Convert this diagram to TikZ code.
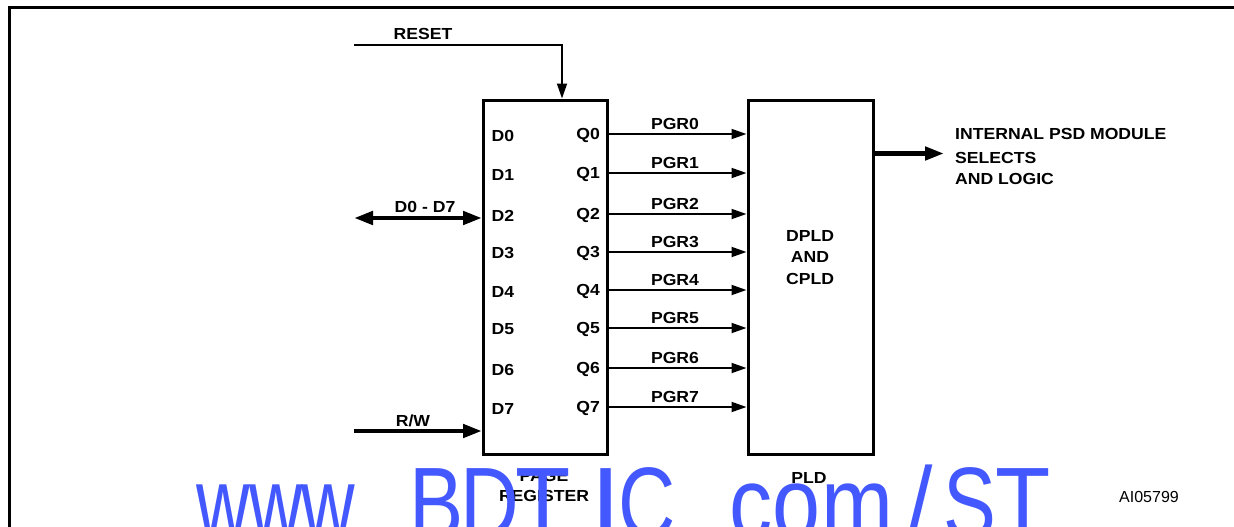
\documentclass[tikz,border=0pt]{standalone}
\usepackage{fontspec}
\setmainfont{Liberation Sans}
\newfontfamily\labfont{Liberation Sans}[FakeStretch=1.1]
\usetikzlibrary{arrows.meta}
\definecolor{wmblue}{RGB}{68,88,255}
\begin{document}
\begin{tikzpicture}[x=1pt,y=-1pt,
  lab/.style={font=\labfont\bfseries\fontsize{16}{19}\selectfont, inner sep=0pt},
  note/.style={font=\fontsize{16}{19}\selectfont, inner sep=0pt},
  blk/.style={draw, line width=3pt, inner sep=0pt},
  sig/.style={line width=1.8pt, -{Triangle[length=15pt,width=10pt]}},
  bus/.style={line width=4.5pt, -{Triangle[length=19pt,width=13pt]}},
  dbus/.style={line width=4.5pt, {Triangle[length=19pt,width=13pt]}-{Triangle[length=19pt,width=13pt]}},
  frame/.style={line width=2.5pt},
  wm/.style={font=\fontsize{101.6}{110}\selectfont, text=wmblue, inner sep=0pt, anchor=base west}]
\useasboundingbox (0,0) rectangle (1234,527);
% frame
\draw[frame] (9.5,527) -- (9.5,7.3) -- (1234,7.3);
% blocks
\node[blk, minimum width=124pt, minimum height=354pt] (pr) at (545.5,277) {};
\node[blk, minimum width=125pt, minimum height=354pt] (pld) at (810.5,277.5) {};
% register pins and PGR connectors
\foreach \i/\y in {0/134,1/173,2/214,3/252,4/290,5/328,6/368,7/407}{
  \node[lab, anchor=west] (d\i) at (491.5,\y+1.5) {D\i};
  \node[lab, anchor=east] (q\i) at (600,\y+1.5) {Q\i};
  \coordinate (pg\i) at (675,\y);
  \draw[sig] (pg\i -| pr.east) -- (pg\i -| pld.west);
  \node[lab] (pgr\i) at (675,\y-10) {PGR\i};
}
% RESET
\coordinate (rs) at (354,45);
\coordinate (rc) at (562,45);
\draw[sig] (rs) -- (rc) -- (rc |- pr.north);
\node[lab] (treset) at (423,34) {RESET};
% data bus
\coordinate (db) at (354,218);
\draw[dbus] (db) -- (db -| pr.west);
\node[lab] (tdb) at (425,207) {D0 - D7};
% R/W
\coordinate (rw) at (354,431);
\draw[bus] (rw) -- (rw -| pr.west);
\node[lab] (trw) at (413,421) {R/W};
% output
\coordinate (out) at (944,153.5);
\draw[bus] (out -| pld.east) -- (out);
\node[lab, anchor=west] (to1) at (955,134) {INTERNAL PSD MODULE};
\node[lab, anchor=west] (to2) at (955,157.5) {SELECTS};
\node[lab, anchor=west] (to3) at (955,179) {AND LOGIC};
% PLD text
\node[lab] (tp1) at (810,236) {DPLD};
\node[lab] (tp2) at (810,257) {AND};
\node[lab] (tp3) at (810,279) {CPLD};
% captions
\node[lab] (cap1) at (544,476) {PAGE};
\node[lab] (cap2) at (544,496) {REGISTER};
\node[lab] (cap3) at (809,478) {PLD};
\node[note] (aid) at (1149,497) {AI05799};
% watermark
\node[wm] (w1) at (196.5,538) {\scalebox{0.73}[1]{w}};
\node[wm] (w2) at (249,538) {\scalebox{0.73}[1]{w}};
\node[wm] (w3) at (301.5,538) {\scalebox{0.73}[1]{w}};
\node[wm] (w4) at (409,538) {\scalebox{0.8}[1]{B}};
\node[wm] (w5) at (460.6,538) {\scalebox{0.8}[1]{D}};
\node[wm] (w6) at (515,538) {\scalebox{0.89}[1]{T}};
\node[wm] (w7) at (590,538) {\scalebox{1.1}[1]{I}};
\node[wm] (w8) at (618,538) {\scalebox{0.78}[1]{C}};
\node[wm] (w9) at (729.6,538) {\scalebox{0.85}[1]{com}};
\node[wm] (w10) at (907,538) {\scalebox{0.9}[1]{/}};
\node[wm] (w11) at (943,538) {\scalebox{0.78}[1]{S}};
\node[wm] (w12) at (995,538) {\scalebox{0.89}[1]{T}};
\end{tikzpicture}
\end{document}
